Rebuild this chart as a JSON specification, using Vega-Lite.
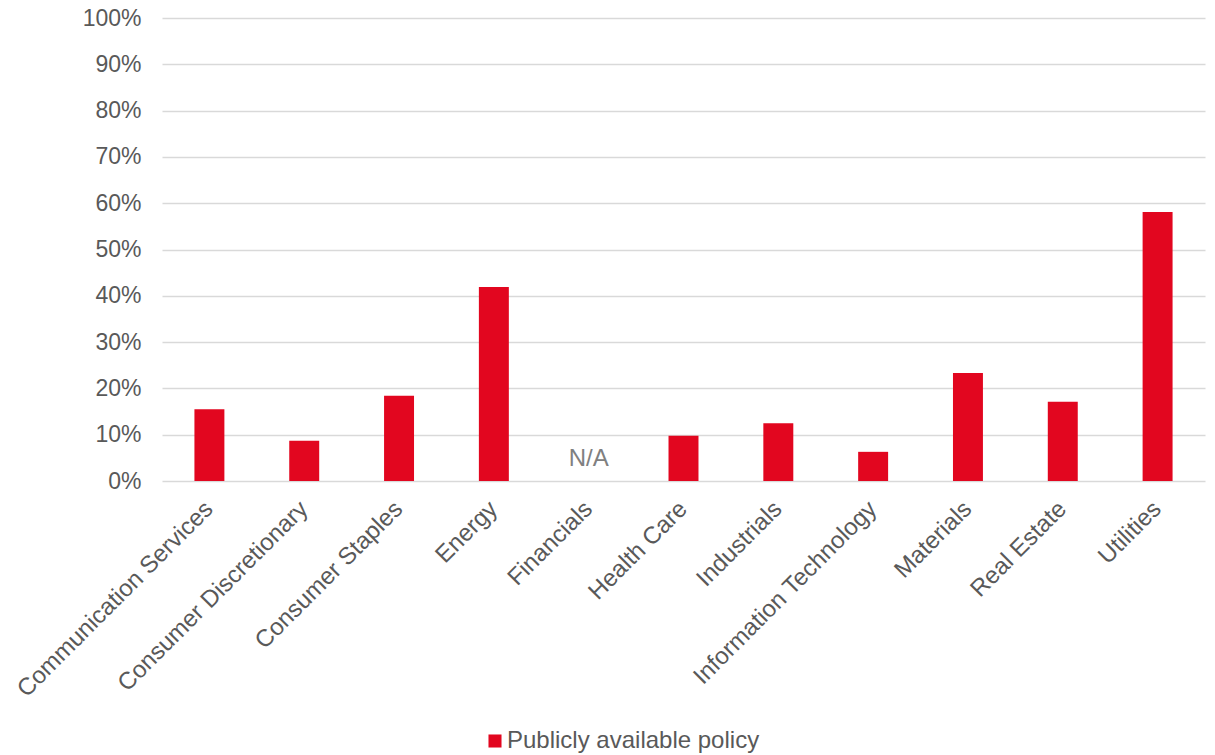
{
  "$schema": "https://vega.github.io/schema/vega-lite/v6.json",
  "width": 1043,
  "height": 463,
  "autosize": {"type": "none"},
  "padding": {"left": 162, "top": 18, "right": 10, "bottom": 274},
  "background": "white",
  "config": {
    "view": {"stroke": null},
    "font": "Liberation Sans",
    "axis": {"labelFont": "Liberation Sans", "labelColor": "#595959", "labelFontSize": 23},
    "legend": {"labelFont": "Liberation Sans", "labelColor": "#595959", "labelFontSize": 24}
  },
  "data": {
    "values": [
      {"sector": "Communication Services", "value": 0.155, "series": "Publicly available policy", "note": ""},
      {"sector": "Consumer Discretionary", "value": 0.087, "series": "Publicly available policy", "note": ""},
      {"sector": "Consumer Staples", "value": 0.184, "series": "Publicly available policy", "note": ""},
      {"sector": "Energy", "value": 0.419, "series": "Publicly available policy", "note": ""},
      {"sector": "Financials", "value": null, "series": "Publicly available policy", "note": "N/A"},
      {"sector": "Health Care", "value": 0.098, "series": "Publicly available policy", "note": ""},
      {"sector": "Industrials", "value": 0.125, "series": "Publicly available policy", "note": ""},
      {"sector": "Information Technology", "value": 0.063, "series": "Publicly available policy", "note": ""},
      {"sector": "Materials", "value": 0.233, "series": "Publicly available policy", "note": ""},
      {"sector": "Real Estate", "value": 0.171, "series": "Publicly available policy", "note": ""},
      {"sector": "Utilities", "value": 0.581, "series": "Publicly available policy", "note": ""}
    ]
  },
  "encoding": {
    "x": {
      "field": "sector",
      "type": "nominal",
      "sort": null,
      "scale": {
        "domain": ["Communication Services", "Consumer Discretionary", "Consumer Staples", "Energy", "Financials", "Health Care", "Industrials", "Information Technology", "Materials", "Real Estate", "Utilities"],
        "paddingInner": 0.684,
        "paddingOuter": 0.342
      },
      "axis": {
        "title": null,
        "labelAngle": -45,
        "labelAlign": "right",
        "labelBaseline": "middle",
        "labelPadding": 24,
        "labelFontSize": 24,
        "ticks": false,
        "domain": false,
        "grid": false,
        "labelOverlap": false,
        "labelLimit": 400
      }
    }
  },
  "layer": [
    {
      "mark": {"type": "bar", "color": "#E2061F"},
      "encoding": {
        "y": {
          "field": "value",
          "type": "quantitative",
          "scale": {"domain": [0, 1], "nice": false},
          "axis": {
            "title": null,
            "format": ".0%",
            "values": [0, 0.1, 0.2, 0.3, 0.4, 0.5, 0.6, 0.7, 0.8, 0.9, 1.0],
            "grid": true,
            "gridColor": "#D9D9D9",
            "gridWidth": 1.5,
            "domain": false,
            "ticks": false,
            "labelPadding": 21
          }
        },
        "color": {
          "field": "series",
          "type": "nominal",
          "scale": {"range": ["#E2061F"]},
          "legend": {
            "title": null,
            "orient": "none",
            "legendX": 321,
            "legendY": 711,
            "symbolType": "square",
            "symbolSize": 170,
            "symbolStrokeWidth": 0,
            "labelOffset": 0,
            "labelLimit": 400
          }
        }
      }
    },
    {
      "mark": {"type": "text", "color": "#808080", "fontSize": 24, "dy": -22, "font": "Liberation Sans"},
      "encoding": {
        "y": {"datum": 0},
        "text": {"field": "note"}
      }
    }
  ]
}
